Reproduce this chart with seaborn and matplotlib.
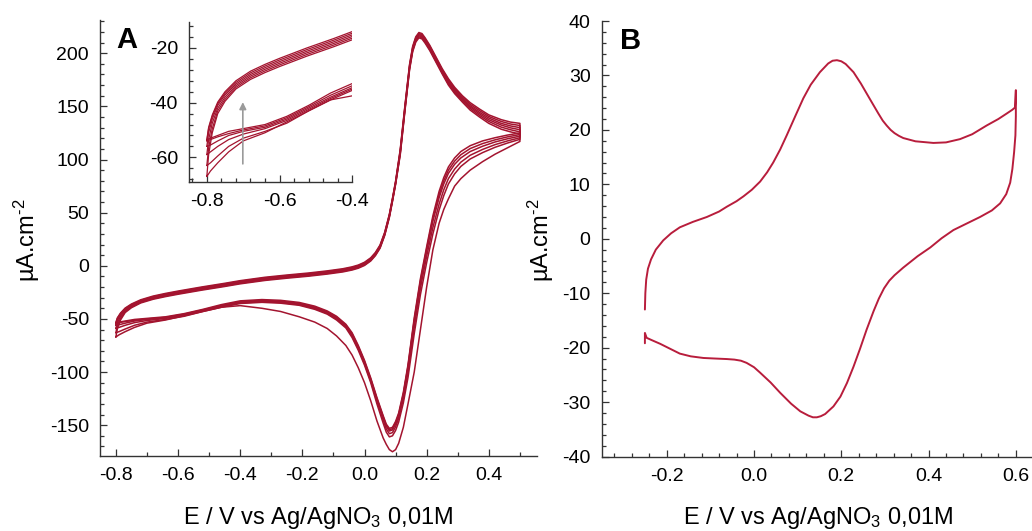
import matplotlib
matplotlib.use('Agg')
import matplotlib.pyplot as plt
from matplotlib.ticker import MultipleLocator
import seaborn as sns

# ---- Panel A: repeated CV cycles (potential grids shared by all cycles) ----
E_fwd = [-0.80, -0.795, -0.785, -0.77, -0.75, -0.72, -0.68, -0.64, -0.60, -0.525,
         -0.45, -0.40, -0.32, -0.25, -0.18, -0.12, -0.07, -0.04, -0.02, 0.00,
         0.02, 0.035, 0.05, 0.065, 0.08, 0.09, 0.10, 0.115, 0.13, 0.145,
         0.155, 0.165, 0.175, 0.185, 0.195, 0.21, 0.23, 0.25, 0.27, 0.29,
         0.315, 0.34, 0.37, 0.40, 0.44, 0.47, 0.50]
E_rev = [0.50, 0.46, 0.42, 0.38, 0.34, 0.31, 0.29, 0.27, 0.255, 0.24,
         0.22, 0.20, 0.18, 0.16, 0.14, 0.125, 0.11, 0.10, 0.09, 0.08,
         0.07, 0.06, 0.04, 0.02, 0.00, -0.02, -0.04, -0.06, -0.09, -0.12,
         -0.16, -0.21, -0.27, -0.33, -0.40, -0.46, -0.52, -0.58, -0.64, -0.70,
         -0.74, -0.77, -0.79, -0.80]

fwd_c1 = [-67, -59, -51, -44, -39.5, -35, -31.5, -29, -26.8, -23,
          -19.5, -17, -13.8, -11.7, -9.8, -7.8, -5.8, -4, -2.3, 0.3,
          4.5, 9.5, 16.5, 28.5, 45.5, 60.5, 76.5, 104.5, 145.5, 184.5,
          201.5, 210.5, 214.5, 213.5, 209.5, 202.5, 191.5, 180.5, 170, 162,
          154, 146.5, 140, 134, 128.5, 126, 124]
fwd_c2 = [-63, -56.5, -49.5, -43, -38.8, -34.4, -30.9, -28.4, -26.2, -22.4,
          -18.9, -16.4, -13.2, -11.1, -9.2, -7.2, -5.2, -3.4, -1.7, 0.9,
          5.1, 10.1, 17.1, 29.1, 46.1, 61.1, 77.1, 105.5, 146.5, 185.5,
          202.5, 211.5, 215.5, 214.5, 210.5, 203.5, 192.5, 181.5, 171.2, 163.2,
          155.2, 148, 141.5, 135.8, 130.5, 128, 126]
fwd_c3 = [-59, -53.5, -47.5, -42, -38, -33.8, -30.3, -27.8, -25.6, -21.8,
          -18.3, -15.8, -12.6, -10.5, -8.6, -6.6, -4.6, -2.8, -1.1, 1.5,
          5.7, 10.7, 17.7, 29.7, 46.7, 61.7, 77.7, 106.5, 147.5, 186.5,
          203.5, 212.5, 216.5, 215.5, 211.5, 204.5, 193.5, 182.5, 172.4, 164.4,
          156.4, 149.4, 143, 137.4, 132.4, 129.8, 128]
fwd_c4 = [-56, -51, -46, -41, -37.2, -33.2, -29.7, -27.2, -25, -21.2,
          -17.7, -15.2, -12, -9.9, -8, -6, -4, -2.2, -0.5, 2.1,
          6.3, 11.3, 18.3, 30.3, 47.3, 62.3, 78.3, 107.5, 148.5, 187.5,
          204.5, 213.5, 217.5, 216.5, 212.5, 205.5, 194.5, 183.5, 173.6, 165.6,
          157.6, 150.6, 144.4, 139, 134, 131.6, 130]
fwd_c5 = [-54, -49.5, -45, -40.3, -36.6, -32.6, -29.1, -26.6, -24.4, -20.6,
          -17.1, -14.6, -11.4, -9.3, -7.4, -5.4, -3.4, -1.6, 0.1, 2.7,
          6.9, 11.9, 18.9, 30.9, 47.9, 62.9, 78.9, 108.5, 149.5, 188.5,
          205.5, 214.5, 218.5, 217.5, 213.5, 206.5, 195.5, 184.5, 174.8, 166.8,
          158.8, 152, 146, 140.5, 135.8, 133.4, 132]
fwd_c6 = [-53.5, -49, -44.5, -39.8, -36, -32, -28.5, -26, -23.8, -20,
          -16.5, -14, -10.8, -8.7, -6.8, -4.8, -2.8, -1, 0.7, 3.3,
          7.5, 12.5, 19.5, 31.5, 48.5, 63.5, 79.5, 109.5, 150.5, 189.5,
          206.5, 215.5, 219.5, 218.5, 214.5, 207.5, 196.5, 185.5, 176, 168,
          160, 153.5, 147.5, 142, 137.5, 135.2, 134]

rev_c1 = [117, 111, 105, 98, 90, 82, 75, 63, 53, 40,
          15, -20, -60, -100, -130, -152, -167, -173, -175, -173,
          -168, -162, -146, -127, -110, -96, -84, -75, -66, -59,
          -53, -48, -43, -40, -37.5, -39, -43, -47, -51, -54,
          -58, -62, -65, -67]
rev_c2 = [119, 115.5, 111.5, 106.5, 100.5, 93.5, 86.5, 77, 66, 52.5,
          30, 3, -27, -64, -105, -129, -147, -155, -160, -161,
          -156.5, -148, -130, -110, -93.5, -79.5, -67.5, -58.5, -51, -45.5,
          -41, -37.2, -35.2, -34.4, -35.5, -39, -43, -47.5, -50.5, -53,
          -56, -59.5, -62, -63]
rev_c3 = [120.5, 117.5, 114, 109.5, 104, 97.5, 91, 82, 71.5, 58,
          36, 9, -21, -58, -100, -125, -143.5, -151.5, -157, -158,
          -153.5, -145, -127.5, -108.5, -92, -78, -66, -57.5, -50, -44.8,
          -40.2, -36.6, -34.6, -33.8, -35, -38.5, -42.5, -46.5, -49.5, -51.5,
          -53.5, -56, -58, -59]
rev_c4 = [122, 119.5, 116.5, 112.5, 107.5, 101.5, 95.5, 87, 77, 64,
          42, 14, -16, -53, -96, -122, -141, -149, -154.5, -155.5,
          -151, -143, -126, -107.5, -91, -77, -65, -56.5, -49, -44,
          -39.5, -36, -34, -33.2, -34.5, -38, -42, -46, -49, -50.5,
          -52, -54, -55.5, -56]
rev_c5 = [123.5, 121.3, 118.5, 115, 110.3, 104.5, 98.5, 90, 80, 67,
          44.5, 16, -14, -51, -94.5, -120.5, -139.8, -147.8, -153.3, -154.3,
          -150, -142, -125, -106.5, -90, -76, -64, -55.8, -48.3, -43.3,
          -38.8, -35.3, -33.3, -32.5, -33.8, -37.3, -41.5, -45.5, -48.5, -50,
          -51.3, -52.5, -53.5, -54]
rev_c6 = [125, 123, 120.5, 117.5, 113, 107.5, 101.5, 93, 83, 70,
          47, 18, -12, -49, -93, -119, -138.5, -146.5, -152, -153,
          -149, -141, -124, -105.5, -89, -75, -63, -55, -47.5, -42.5,
          -38, -34.5, -32.5, -31.8, -33, -36.5, -41, -45, -48, -49.5,
          -50.5, -52, -53, -53.5]

cycles = [(fwd_c1, rev_c1), (fwd_c2, rev_c2), (fwd_c3, rev_c3),
          (fwd_c4, rev_c4), (fwd_c5, rev_c5), (fwd_c6, rev_c6)]

# ---- Panel B: single cycle ----
b_E_up = [-0.250, -0.249, -0.247, -0.243, -0.236, -0.225, -0.208, -0.190, -0.170, -0.140,
          -0.108, -0.080, -0.062, -0.040, -0.024, -0.005, 0.014, 0.030, 0.044, 0.060,
          0.075, 0.095, 0.113, 0.130, 0.151, 0.170, 0.180, 0.190, 0.200, 0.210,
          0.228, 0.245, 0.266, 0.285, 0.295, 0.304, 0.313, 0.322, 0.332, 0.342,
          0.370, 0.411, 0.440, 0.472, 0.500, 0.533, 0.560, 0.579, 0.592, 0.598,
          0.600]
b_I_up = [-13.0, -10.0, -7.5, -5.5, -3.8, -2.0, -0.3, 1.0, 2.1, 3.1,
          4.0, 5.0, 5.9, 6.9, 7.8, 9.0, 10.5, 12.2, 14.0, 16.4,
          19.0, 22.6, 25.8, 28.3, 30.6, 32.2, 32.7, 32.8, 32.6, 32.1,
          30.6, 28.5, 25.6, 23.0, 21.7, 20.8, 20.0, 19.4, 18.9, 18.5,
          17.9, 17.6, 17.7, 18.3, 19.2, 20.8, 22.0, 23.0, 23.7, 24.1,
          27.3]
b_E_down = [0.600, 0.599, 0.596, 0.592, 0.587, 0.578, 0.564, 0.545, 0.518, 0.490,
            0.457, 0.430, 0.404, 0.375, 0.342, 0.322, 0.310, 0.298, 0.286, 0.274,
            0.258, 0.243, 0.228, 0.213, 0.198, 0.182, 0.163, 0.153, 0.144, 0.135,
            0.125, 0.106, 0.085, 0.060, 0.038, 0.014, 0.000, -0.017, -0.030, -0.045,
            -0.062, -0.090, -0.116, -0.145, -0.170, -0.195, -0.215, -0.235, -0.246, -0.250,
            -0.250]
b_I_down = [22.5, 19.0, 15.9, 12.8, 10.3, 8.2, 6.5, 5.2, 4.0, 2.9,
            1.6, 0.1, -1.6, -3.2, -5.3, -6.7, -7.7, -9.1, -11.0, -13.3,
            -16.7, -20.2, -23.5, -26.5, -29.0, -30.8, -32.2, -32.6, -32.8, -32.8,
            -32.5, -31.7, -30.3, -28.3, -26.4, -24.6, -23.6, -22.8, -22.4, -22.2,
            -22.1, -22.0, -21.9, -21.6, -21.1, -20.1, -19.3, -18.6, -18.2, -17.3,
            -19.2]

col_a = '#a3142f'
col_b = '#b81d3c'
xlabel = 'E / V vs Ag/AgNO$_3$ 0,01M'
ylabel = r'µA.cm$^{\text{-2}}$'

sns.set_style('ticks')
plt.rcParams['font.family'] = ['Liberation Sans', 'DejaVu Sans']
plt.rcParams['mathtext.fontset'] = 'custom'
plt.rcParams['mathtext.rm'] = 'Liberation Sans'
plt.rcParams['mathtext.it'] = 'Liberation Sans'
plt.rcParams['axes.unicode_minus'] = False
plt.rcParams['text.color'] = 'black'
plt.rcParams['xtick.labelcolor'] = 'black'
plt.rcParams['ytick.labelcolor'] = 'black'

W, H = 1032, 531
fig = plt.figure(figsize=(W / 100, H / 100), dpi=100)
axA = fig.add_axes([100 / W, 1 - 456 / H, 437 / W, 435.7 / H])
axB = fig.add_axes([601.7 / W, 1 - 456.5 / H, (W - 601.7) / W, 435.5 / H])
axIn = fig.add_axes([189 / W, 1 - 181.7 / H, 163.3 / W, 160 / H])


def style(ax, xmaj, xmin, ymaj, ymin):
    sns.despine(ax=ax)
    ax.xaxis.set_major_locator(MultipleLocator(xmaj))
    ax.xaxis.set_minor_locator(MultipleLocator(xmin))
    ax.yaxis.set_major_locator(MultipleLocator(ymaj))
    ax.yaxis.set_minor_locator(MultipleLocator(ymin))
    ax.tick_params(which='major', direction='in', length=5, width=0.9,
                   color='#333333', labelcolor='black', labelsize=14, pad=8)
    ax.tick_params(which='minor', direction='in', length=3, width=0.9,
                   color='#333333')
    for s in ['left', 'bottom']:
        ax.spines[s].set_linewidth(1.0)
        ax.spines[s].set_color('#333333')
    ax.set_xlabel('')
    ax.set_ylabel('')


for fwd, rev in cycles:
    sns.lineplot(x=E_fwd + E_rev, y=fwd + rev, sort=False, estimator=None,
                 color=col_a, lw=1.1, ax=axA)
    sns.lineplot(x=E_fwd + E_rev, y=fwd + rev, sort=False, estimator=None,
                 color=col_a, lw=0.9, ax=axIn)

sns.lineplot(x=b_E_up + b_E_down, y=b_I_up + b_I_down, sort=False, estimator=None,
             color=col_b, lw=1.4, ax=axB)

axA.set_xlim(-0.851, 0.555)
axA.set_ylim(-179, 231)
style(axA, 0.2, 0.1, 50, 10)

axIn.set_xlim(-0.849, -0.4)
axIn.set_ylim(-68.9, -10.4)
style(axIn, 0.2, 0.04, 20, 4)
axIn.set_xticks([-0.8, -0.6, -0.4])
axIn.annotate('', xy=(-0.701, -38.8), xytext=(-0.701, -63.4),
              arrowprops=dict(arrowstyle='-|>', color='#9a9a9a', lw=1.2,
                              mutation_scale=10))

axB.set_xlim(-0.349, 0.637)
axB.set_ylim(-40, 40)
style(axB, 0.2, 0.04, 10, 2)

fig.text(127 / W, 1 - 40 / H, 'A', ha='center', va='center', fontsize=21, fontweight='bold')
fig.text(631 / W, 1 - 41 / H, 'B', ha='center', va='center', fontsize=21, fontweight='bold')

fig.text(318 / W, 1 - 524 / H, xlabel, ha='center', va='baseline', fontsize=17)
fig.text(818 / W, 1 - 524 / H, xlabel, ha='center', va='baseline', fontsize=17)
fig.text(27 / W, 1 - 240 / H, ylabel, ha='center', va='center', rotation=90, fontsize=17)
fig.text(541 / W, 1 - 240 / H, ylabel, ha='center', va='center', rotation=90, fontsize=17)

fig.savefig('out.png', dpi=100)
